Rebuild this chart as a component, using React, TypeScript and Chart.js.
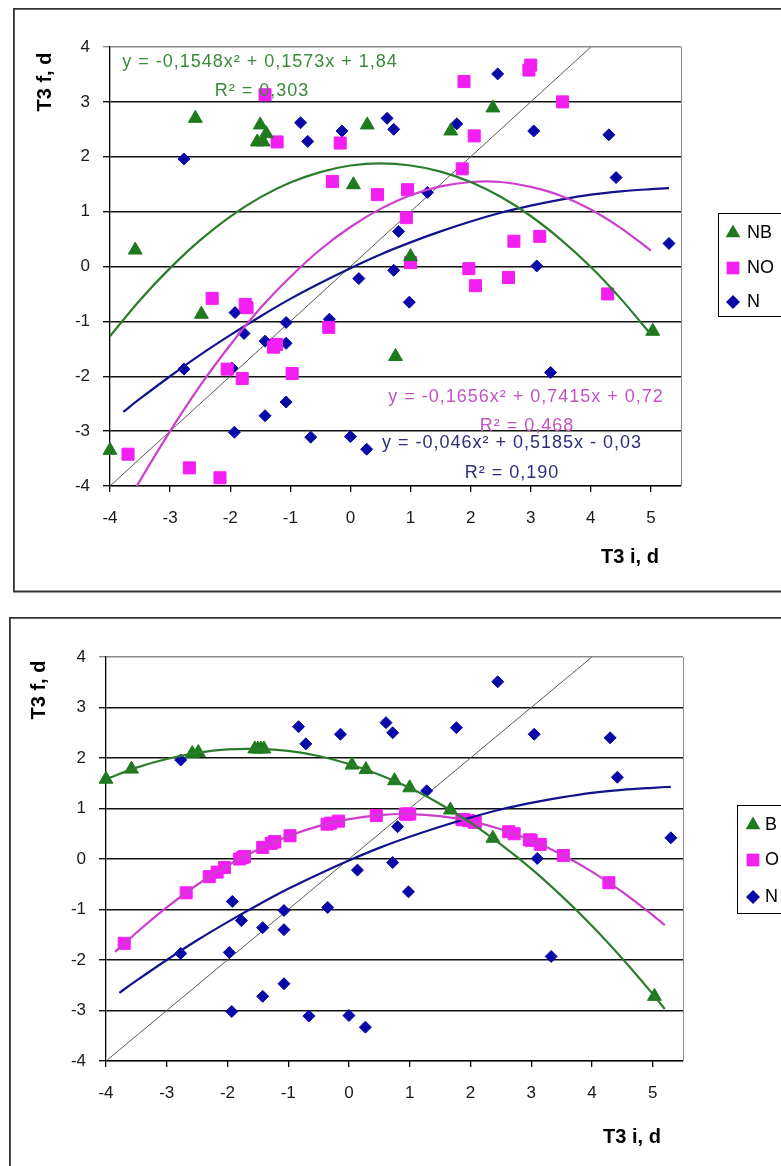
import React, { useEffect, useRef } from 'react';
import { Chart, registerables } from 'chart.js';

Chart.register(...registerables);

const FONT = "'Liberation Sans', Arial, Helvetica, sans-serif";

// ---------- data ----------
const xTickValues = [-4, -3, -2, -1, 0, 1, 2, 3, 4, 5];
const yTickValues = [-4, -3, -2, -1, 0, 1, 2, 3, 4];
const xAxisTitle = 'T3 i, d';
const yAxisTitle = 'T3 f, d';

const topLegendLabels = ['NB', 'NO', 'N'];
const bottomLegendLabels = ['B', 'O', 'N'];

const topEquations = [
  'y = -0,1548x² + 0,1573x + 1,84',
  'R² = 0,303',
  'y = -0,1656x² + 0,7415x + 0,72',
  'R² = 0,468',
  'y = -0,046x² + 0,5185x - 0,03',
  'R² = 0,190',
];

const nbX = [-4.0, -3.58, -2.58, -2.48, -1.55, -1.5, -1.45, -1.4, 0.05, 0.28, 0.75, 1.0, 1.67, 2.37, 5.03];
const nbY = [-3.35, 0.3, 2.7, -0.87, 2.27, 2.58, 2.27, 2.42, 1.49, 2.58, -1.64, 0.18, 2.47, 2.89, -1.18];
const bY = [1.58, 1.78, 2.09, 2.11, 2.18, 2.18, 2.18, 2.18, 1.86, 1.77, 1.55, 1.41, 0.97, 0.41, -2.72];

const noX = [-3.7, -2.68, -2.3, -2.17, -2.05, -1.8, -1.75, -1.72, -1.42, -1.28, -1.23, -1.22, -0.97, -0.36, -0.3, -0.17,
  0.45, 0.93, 0.95, 1.0, 1.86, 1.89, 1.97, 2.06, 2.08, 2.63, 2.72, 2.97, 3.0, 3.15, 3.53, 4.28];
const noY = [-3.42, -3.67, -0.58, -3.85, -1.87, -2.04, -0.69, -0.75, 3.13, -1.47, -1.42, 2.27, -1.95, -1.11, 1.55, 2.25,
  1.31, 0.89, 1.4, 0.07, 1.78, 3.37, -0.04, 2.38, -0.35, -0.2, 0.46, 3.58, 3.67, 0.55, 3.0, -0.5];
const oY = [-1.67, -0.67, -0.35, -0.26, -0.17, 0.0, 0.03, 0.05, 0.23, 0.31, 0.34, 0.34, 0.46, 0.69, 0.71, 0.75,
  0.86, 0.89, 0.89, 0.89, 0.78, 0.78, 0.76, 0.73, 0.73, 0.54, 0.5, 0.38, 0.37, 0.29, 0.07, -0.47];

const nX = [-2.77, -0.83, -0.71, -0.14, 0.61, 0.72, 0.14, 0.72, 0.8, 2.45, 1.77, 3.05, 4.3, 4.42, 1.28, 5.3, 3.1, 0.98,
  3.33, -1.92, -1.07, -0.35, -1.77, -1.42, -1.07, -2.77, -1.97, -1.07, -1.42, -1.93, -0.66, 0.0, 0.27];
const nY = [1.96, 2.62, 2.28, 2.47, 2.7, 2.5, -0.22, -0.07, 0.64, 3.51, 2.6, 2.47, 2.4, 1.62, 1.35, 0.42, 0.01, -0.65,
  -1.93, -0.84, -1.02, -0.96, -1.22, -1.36, -1.4, -1.87, -1.85, -2.47, -2.72, -3.02, -3.11, -3.1, -3.33];

const diagX = [-4, 4];
const diagY = [-4, 4];

// trend curves
const fitNbX = [-4, -3.5, -3, -2.5, -2, -1.5, -1, -0.5, 0, 0.5, 1, 1.5, 2, 2.5, 3, 3.5, 4, 4.5, 5];
const fitNbY = [-1.27, -0.61, -0.03, 0.48, 0.91, 1.26, 1.53, 1.72, 1.84, 1.88, 1.84, 1.73, 1.54, 1.27, 0.92, 0.49, -0.01, -0.59, -1.24];
const fitNoX = [-3.7, -3.5, -3, -2.5, -2, -1.5, -1, -0.5, 0, 0.5, 1, 1.5, 2, 2.5, 3, 3.5, 4, 4.5, 5];
const fitNoY = [-4.29, -3.9, -3.0, -2.17, -1.43, -0.76, -0.19, 0.31, 0.72, 1.05, 1.3, 1.46, 1.54, 1.54, 1.45, 1.29, 1.04, 0.7, 0.29];
const fitNX = [-3.78, -3.5, -3, -2.5, -2, -1.5, -1, -0.5, 0, 0.5, 1, 1.5, 2, 2.5, 3, 3.5, 4, 4.5, 5, 5.3];
const fitNY = [-2.65, -2.41, -2.0, -1.61, -1.25, -0.91, -0.59, -0.3, -0.03, 0.22, 0.44, 0.64, 0.82, 0.98, 1.11, 1.22, 1.31, 1.37, 1.41, 1.43];
const fitBX = [-4, -3.5, -3, -2.5, -2, -1.5, -1, -0.5, 0, 0.5, 1, 1.5, 2, 2.5, 3, 3.5, 4, 4.5, 5, 5.2];
const fitBY = [1.58, 1.81, 1.98, 2.1, 2.17, 2.18, 2.14, 2.04, 1.88, 1.67, 1.41, 1.09, 0.72, 0.29, -0.19, -0.73, -1.32, -1.97, -2.67, -2.97];
const fitOX = [-3.85, -3.5, -3, -2.5, -2, -1.5, -1, -0.5, 0, 0.5, 1, 1.5, 2, 2.5, 3, 3.5, 4, 4.5, 5, 5.2];
const fitOY = [-1.84, -1.46, -0.96, -0.51, -0.13, 0.19, 0.45, 0.65, 0.79, 0.87, 0.89, 0.85, 0.75, 0.59, 0.37, 0.09, -0.25, -0.65, -1.11, -1.31];

// ---------- styles ----------
const GREEN = '#1f7a1f';
const GREEN_LINE = '#2b7d2b';
const MAGENTA = '#f21ef2';
const MAGENTA_LINE = '#cc3fcc';
const BLUE = '#0808a8';
const BLUE_LINE = '#12128f';

const pts = (xs: number[], ys: number[]) => xs.map((x, i) => ({ x, y: ys[i] }));

type MarkerKind = 'triangle' | 'rect' | 'rectRot';

function drawMarker(ctx: CanvasRenderingContext2D, kind: MarkerKind, x: number, y: number, r: number, color: string) {
  ctx.save();
  ctx.fillStyle = color;
  ctx.beginPath();
  if (kind === 'triangle') {
    ctx.moveTo(x, y - r);
    ctx.lineTo(x + r * 0.866, y + r * 0.5);
    ctx.lineTo(x - r * 0.866, y + r * 0.5);
  } else if (kind === 'rect') {
    const s = r * Math.SQRT1_2;
    ctx.rect(x - s, y - s, 2 * s, 2 * s);
  } else {
    ctx.moveTo(x, y - r);
    ctx.lineTo(x + r, y);
    ctx.lineTo(x, y + r);
    ctx.lineTo(x - r, y);
  }
  ctx.closePath();
  ctx.fill();
  ctx.restore();
}

interface EqPos { x: number; y: number; color: string }
interface PanelSpec {
  left: number; top: number; width: number; height: number;
  padTop: number; padRight: number; xAxisHeight: number; yAxisWidth: number;
  frameBottom: number | null;
  legendBox: { x: number; y: number; h: number };
  legendRows: number[]; legendMarkerX: number; legendTextX: number;
  legendLabels: string[];
  equations: string[]; eqPos: EqPos[];
  xTitlePos: { x: number; y: number }; yTitlePos: { x: number; y: number };
  fits: { xs: number[]; ys: number[]; color: string }[];
  scatter: { xs: number[]; ys: number[]; color: string; kind: MarkerKind; r: number }[];
}

const legendKinds: { kind: MarkerKind; color: string; r: number }[] = [
  { kind: 'triangle', color: GREEN, r: 8.5 },
  { kind: 'rect', color: MAGENTA, r: 9 },
  { kind: 'rectRot', color: BLUE, r: 7 },
];

function makePlugin(p: PanelSpec) {
  return {
    id: 'decor',
    beforeDatasetsDraw(chart: any) {
      const { ctx, chartArea: a } = chart;
      ctx.save();
      ctx.strokeStyle = '#8c8c8c';
      ctx.lineWidth = 1;
      const rx = Math.round(a.right) + 0.5;
      ctx.beginPath();
      ctx.moveTo(rx, a.top);
      ctx.lineTo(rx, a.bottom);
      ctx.stroke();
      ctx.restore();
    },
    afterDraw(chart: any) {
      const ctx: CanvasRenderingContext2D = chart.ctx;
      const W = chart.width;
      const H = chart.height;
      // outer chart frame
      ctx.save();
      ctx.strokeStyle = '#333';
      ctx.lineWidth = 1.8;
      ctx.beginPath();
      ctx.moveTo(W + 5, 0.9);
      ctx.lineTo(0.9, 0.9);
      if (p.frameBottom !== null) {
        ctx.lineTo(0.9, p.frameBottom);
        ctx.lineTo(W + 5, p.frameBottom);
      } else {
        ctx.lineTo(0.9, H + 5);
      }
      ctx.stroke();
      ctx.restore();

      // legend
      ctx.save();
      ctx.strokeStyle = '#000';
      ctx.lineWidth = 1;
      ctx.strokeRect(p.legendBox.x + 0.5, p.legendBox.y + 0.5, W + 20 - p.legendBox.x, p.legendBox.h);
      ctx.font = `18px ${FONT}`;
      ctx.fillStyle = '#000';
      ctx.textBaseline = 'middle';
      ctx.textAlign = 'left';
      p.legendLabels.forEach((lab, i) => {
        const k = legendKinds[i];
        drawMarker(ctx, k.kind, p.legendMarkerX, p.legendRows[i], k.r, k.color);
        ctx.fillText(lab, p.legendTextX, p.legendRows[i]);
      });
      ctx.restore();

      // trendline equations
      if (p.equations.length) {
        ctx.save();
        (ctx as any).letterSpacing = '1px';
        ctx.font = `18px ${FONT}`;
        ctx.textAlign = 'center';
        ctx.textBaseline = 'middle';
        p.equations.forEach((t, i) => {
          const e = p.eqPos[i];
          ctx.fillStyle = e.color;
          ctx.fillText(t, e.x, e.y);
        });
        ctx.restore();
      }

      // axis titles
      ctx.save();
      ctx.font = `bold 20px ${FONT}`;
      ctx.fillStyle = '#000';
      ctx.textAlign = 'center';
      ctx.textBaseline = 'middle';
      ctx.fillText(xAxisTitle, p.xTitlePos.x, p.xTitlePos.y);
      ctx.translate(p.yTitlePos.x, p.yTitlePos.y);
      ctx.rotate(-Math.PI / 2);
      ctx.fillText(yAxisTitle, 0, 0);
      ctx.restore();
    },
  };
}

function buildConfig(p: PanelSpec): any {
  const datasets: any[] = [];
  p.fits.forEach((f) => {
    datasets.push({
      type: 'scatter',
      data: pts(f.xs, f.ys),
      showLine: true,
      borderColor: f.color,
      backgroundColor: f.color,
      borderWidth: 2.2,
      pointRadius: 0,
      tension: 0.3,
    });
  });
  p.scatter.forEach((s) => {
    datasets.push({
      type: 'scatter',
      data: pts(s.xs, s.ys),
      pointStyle: s.kind,
      pointRadius: s.r,
      pointBackgroundColor: s.color,
      pointBorderColor: s.color,
      pointBorderWidth: 1,
      showLine: false,
      clip: false,
    });
  });
  datasets.push({
    type: 'scatter',
    data: pts(diagX, diagY),
    showLine: true,
    borderColor: '#5a5a5a',
    borderWidth: 1,
    pointRadius: 0,
  });

  const tickFont = { size: 17, family: FONT };
  return {
    type: 'scatter',
    data: { datasets },
    options: {
      responsive: false,
      animation: false,
      devicePixelRatio: 1,
      layout: { padding: { left: 0, top: p.padTop, right: p.padRight, bottom: 0 } },
      plugins: { legend: { display: false }, tooltip: { enabled: false } },
      events: [],
      scales: {
        x: {
          type: 'linear',
          min: -4,
          max: 5.5,
          afterBuildTicks: (s: any) => { s.ticks = xTickValues.map((v) => ({ value: v })); },
          afterFit: (s: any) => { s.height = p.xAxisHeight; },
          ticks: { color: '#1a1a1a', font: tickFont, padding: 16, maxRotation: 0, autoSkip: false, callback: (v: any) => String(v) },
          grid: { drawOnChartArea: false, drawTicks: true, tickLength: 6, color: '#000', lineWidth: 1.3 },
          border: { display: true, color: '#000', width: 1.3 },
        },
        y: {
          type: 'linear',
          min: -4,
          max: 4,
          afterBuildTicks: (s: any) => { s.ticks = yTickValues.map((v) => ({ value: v })); },
          afterFit: (s: any) => { s.width = p.yAxisWidth; },
          ticks: { color: '#1a1a1a', font: tickFont, padding: 13, autoSkip: false, callback: (v: any) => String(v) },
          grid: {
            color: (c: any) => (c.tick && c.tick.value === 4 ? '#8c8c8c' : '#111'),
            tickLength: 7,
            lineWidth: 1.4,
          },
          border: { display: true, color: '#000', width: 1.3 },
        },
      },
    },
    plugins: [makePlugin(p)],
  };
}

const topSpec: PanelSpec = {
  left: 13, top: 8, width: 768, height: 585,
  padTop: 39, padRight: 100, xAxisHeight: 107, yAxisWidth: 97,
  frameBottom: 583.5,
  legendBox: { x: 705, y: 205, h: 103 },
  legendRows: [225, 260, 294], legendMarkerX: 720, legendTextX: 734,
  legendLabels: topLegendLabels,
  equations: topEquations,
  eqPos: [
    { x: 247, y: 54, color: '#3a8a3a' },
    { x: 249, y: 83, color: '#3a8a3a' },
    { x: 513, y: 389, color: '#c452c4' },
    { x: 514, y: 418, color: '#c452c4' },
    { x: 499, y: 435, color: '#2e2e7c' },
    { x: 499, y: 465, color: '#2e2e7c' },
  ],
  xTitlePos: { x: 617, y: 549 },
  yTitlePos: { x: 32, y: 74 },
  fits: [
    { xs: fitNbX, ys: fitNbY, color: GREEN_LINE },
    { xs: fitNoX, ys: fitNoY, color: MAGENTA_LINE },
    { xs: fitNX, ys: fitNY, color: BLUE_LINE },
  ],
  scatter: [
    { xs: nbX, ys: nbY, color: GREEN, kind: 'triangle', r: 8 },
    { xs: noX, ys: noY, color: MAGENTA, kind: 'rect', r: 8.5 },
    { xs: nX, ys: nY, color: BLUE, kind: 'rectRot', r: 6 },
  ],
};

const bottomSpec: PanelSpec = {
  left: 9, top: 617, width: 772, height: 549,
  padTop: 40, padRight: 98, xAxisHeight: 105, yAxisWidth: 97,
  frameBottom: null,
  legendBox: { x: 728, y: 188, h: 108 },
  legendRows: [208, 243, 280], legendMarkerX: 744, legendTextX: 756,
  legendLabels: bottomLegendLabels,
  equations: [],
  eqPos: [],
  xTitlePos: { x: 623, y: 520 },
  yTitlePos: { x: 30, y: 73 },
  fits: [
    { xs: fitBX, ys: fitBY, color: GREEN_LINE },
    { xs: fitOX, ys: fitOY, color: MAGENTA_LINE },
    { xs: fitNX, ys: fitNY, color: BLUE_LINE },
  ],
  scatter: [
    { xs: nbX, ys: bY, color: GREEN, kind: 'triangle', r: 8 },
    { xs: noX, ys: oY, color: MAGENTA, kind: 'rect', r: 8.5 },
    { xs: nX, ys: nY, color: BLUE, kind: 'rectRot', r: 6 },
  ],
};

function Panel({ spec }: { spec: PanelSpec }) {
  const ref = useRef<HTMLCanvasElement | null>(null);
  useEffect(() => {
    if (!ref.current) return;
    const chart = new Chart(ref.current, buildConfig(spec));
    return () => chart.destroy();
  }, [spec]);
  return (
    <canvas
      ref={ref}
      width={spec.width}
      height={spec.height}
      style={{ position: 'absolute', left: spec.left, top: spec.top, width: spec.width, height: spec.height, display: 'block' }}
    />
  );
}

export default function App() {
  return (
    <div style={{ position: 'absolute', left: 0, top: 0, width: 781, height: 1166, overflow: 'hidden', background: '#fff' }}>
      <Panel spec={topSpec} />
      <Panel spec={bottomSpec} />
    </div>
  );
}
